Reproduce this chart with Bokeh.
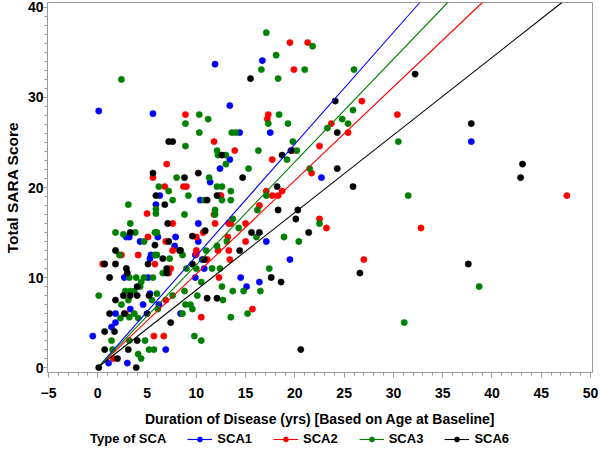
from bokeh.plotting import figure
from bokeh.layouts import column
from bokeh.models import Range1d, FixedTicker, Legend, LegendItem
from bokeh.embed import file_html
from bokeh.resources import INLINE

# ---------------- data ----------------
sca1_x = [0.1, 5.6, 6.3, 11.9, 16.7, 13.4, 14.4, 17.5, 13.4, 22.7, 12.4, 11.4, 12.4, 10.4, 10.2,
          17.1, 10.2, 10.6, 10.8, 19.5, 14.5, 16.4, 15.1, 9.9, 37.9, 5.9, 2.9, 3.2, 7.9, 6.1,
          4.3, 7.8, 5.4, 5.3, 9.9, 2.7, 5.1, 5.3, 3.3, 4.6, 6.2, 1.8, 1.8, 1.4, -0.5, 8.4,
          6.9, 1.1, 3.0]
sca1_y = [28.5, 28.2, 19.1, 33.7, 34.1, 29.1, 26.1, 26.1, 23.1, 21.1, 22.1, 20.6, 19.1, 18.6, 16.0,
          14.0, 14.0, 12.0, 11.0, 12.0, 10.0, 9.5, 9.0, 10.0, 25.1, 18.1, 14.5, 14.5, 14.5, 14.5,
          14.0, 13.5, 12.5, 12.1, 12.5, 10.0, 10.0, 8.2, 6.5, 7.0, 7.0, 6.0, 5.0, 4.5, 3.5, 6.0,
          2.0, 0.5, 0.5]

sca2_x = [8.9, 7.0, 5.6, 6.8, 8.7, 9.0, 19.5, 21.3, 19.9, 26.8, 17.3, 17.2, 23.7, 25.4, 11.8,
          13.9, 19.8, 17.7, 22.5, 21.7, 12.5, 17.1, 17.7, 18.3, 18.7, 11.8, 16.4, 22.5, 23.2, 27.0,
          11.9, 13.3, 13.5, 15.0, 10.7, 10.0, 13.2, 15.0, 13.3, 12.2, 10.0, 10.0, 11.1, 13.4, 12.3,
          15.7, 10.5, 30.4, 47.6, 32.8, 5.0, 7.6, 5.1, 6.9, 2.4, 4.1, 7.6, 0.5, 5.8, 7.4,
          7.2, 6.9, 2.8, 5.7, 6.7, 1.6]
sca2_y = [28.1, 22.6, 21.1, 20.1, 20.1, 20.1, 36.1, 36.1, 33.1, 29.6, 28.1, 27.6, 27.1, 26.1, 25.1,
          24.1, 24.1, 23.1, 24.6, 21.6, 19.1, 19.6, 19.1, 19.1, 19.6, 17.0, 18.0, 16.5, 15.5, 12.0,
          16.0, 16.0, 16.0, 16.0, 15.0, 14.5, 14.5, 14.0, 13.0, 13.0, 13.0, 12.6, 12.0, 12.0, 10.0,
          6.5, 5.6, 28.1, 19.1, 15.5, 17.1, 16.0, 14.5, 14.0, 12.5, 12.5, 13.0, 11.5, 11.5, 11.0,
          10.5, 7.5, 6.0, 3.5, 3.5, 1.0]

sca3_x = [2.4, 10.3, 8.9, 10.3, 8.9, 8.0, 6.2, 7.2, 7.6, 9.2, 17.1, 21.8, 18.1, 16.6, 21.0,
          18.3, 26.0, 25.9, 11.2, 18.4, 17.3, 19.3, 24.8, 25.4, 23.3, 13.6, 14.0, 12.1, 12.2, 13.0,
          16.3, 19.8, 20.2, 13.0, 19.2, 21.5, 15.3, 11.3, 12.1, 12.6, 13.5, 17.1, 13.5, 10.8, 12.6,
          8.8, 11.9, 11.9, 13.7, 16.2, 22.5, 14.3, 16.1, 18.9, 20.4, 12.1, 13.1, 11.0, 8.6, 10.0,
          11.6, 12.4, 9.0, 17.4, 10.5, 12.6, 13.7, 14.8, 16.5, 8.8, 10.1, 12.7, 8.9, 9.4, 9.6,
          8.6, 15.2, 13.5, 9.8, 10.5, 30.5, 31.5, 38.7, 31.1, 3.1, 5.9, 5.9, 3.3, 1.8, 2.6,
          3.8, 5.8, 6.0, 4.7, 2.2, 5.8, 6.0, 7.3, 6.6, 3.2, 3.9, 4.7, 5.6, 0.1, 4.4,
          4.3, 2.8, 3.3, 3.7, 3.1, 5.5, 6.0, 7.6, 6.1, 3.2, 3.7, 4.1, 2.3, 4.8, 3.2,
          1.5, 5.2, 5.7, 4.1, 4.4, 2.4, 1.4]
sca3_y = [32.0, 28.1, 27.1, 26.1, 24.6, 21.1, 20.1, 19.6, 18.6, 19.1, 37.2, 35.7, 34.7, 33.1, 33.1,
          32.1, 33.1, 28.6, 27.6, 28.1, 27.1, 27.1, 27.6, 27.1, 26.6, 26.1, 26.1, 24.1, 23.6, 23.6,
          24.1, 25.1, 24.1, 22.6, 23.1, 22.1, 22.1, 21.1, 20.1, 20.1, 19.6, 19.1, 18.6, 18.6, 18.6,
          17.0, 17.5, 17.0, 16.5, 17.5, 16.0, 15.5, 14.5, 14.5, 14.0, 13.5, 14.0, 13.0, 12.5, 11.0,
          11.0, 11.0, 11.0, 11.0, 9.5, 9.0, 8.5, 8.5, 8.5, 8.5, 8.0, 7.5, 7.0, 7.0, 6.5,
          6.0, 6.0, 5.6, 3.5, 3.0, 25.1, 19.1, 9.0, 5.0, 18.1, 17.6, 17.1, 16.0, 15.0, 14.8,
          15.0, 15.0, 15.0, 14.0, 12.5, 12.5, 12.5, 12.1, 10.5, 10.0, 10.0, 10.0, 10.0, 8.0, 9.5,
          9.0, 8.5, 8.5, 8.5, 7.5, 7.5, 8.2, 8.0, 6.5, 5.6, 6.0, 5.5, 5.5, 3.0, 3.0,
          2.0, 2.0, 2.0, 1.5, 1.0, 7.0, 3.0]

sca6_x = [7.2, 7.6, 5.6, 8.8, 10.2, 5.9, 15.5, 24.1, 24.3, 12.6, 19.6, 18.7, 24.3, 25.9, 14.7,
          12.1, 18.2, 11.1, 18.3, 20.3, 20.1, 21.4, 26.6, 10.9, 15.6, 16.4, 9.6, 14.4, 9.6, 8.4,
          10.8, 17.6, 18.6, 11.1, 12.1, 20.6, 32.2, 37.9, 43.1, 42.9, 37.6, 6.8, 7.1, 3.3, 7.2,
          5.8, 1.8, 8.3, 6.6, 0.7, 1.8, 5.1, 7.0, 7.0, 2.9, 3.0, 1.2, 4.0, 2.6, 3.3,
          4.0, 5.2, 1.2, 2.7, 5.0, 1.7, 0.7, 4.0, 7.4, 0.7, 3.1, 2.0, 0.1, 3.9, 1.8]
sca6_y = [25.1, 25.1, 21.6, 21.1, 21.6, 19.1, 32.1, 29.6, 26.1, 23.6, 24.1, 23.6, 22.1, 20.1, 21.1,
          19.1, 20.1, 18.6, 17.5, 17.5, 16.5, 15.0, 10.5, 15.2, 15.0, 15.0, 14.6, 13.0, 11.5, 13.0,
          12.0, 10.0, 9.5, 7.7, 7.7, 2.0, 32.6, 27.1, 22.6, 21.1, 11.5, 18.1, 16.0, 15.0, 14.0,
          13.6, 13.0, 13.0, 12.1, 11.5, 11.5, 11.5, 11.0, 10.5, 11.0, 10.5, 10.0, 9.0, 8.0, 8.0,
          8.0, 8.0, 6.0, 6.0, 6.0, 4.0, 4.0, 3.0, 5.0, 2.0, 2.0, 1.0, 0.0, 0.0, 7.5]

series_names = ["SCA1", "SCA2", "SCA3", "SCA6"]
series_colors = ["#0000FF", "#FF0000", "#008000", "#000000"]
# slopes of the regression lines through the origin
fit_slopes = [1.241, 1.039, 1.142, 0.861]

x_ticks = [-5, 0, 5, 10, 15, 20, 25, 30, 35, 40, 45, 50]
x_tick_labels = ["\u22125", "0", "5", "10", "15", "20", "25", "30", "35", "40", "45", "50"]
y_ticks = [0, 10, 20, 30, 40]
y_tick_labels = ["0", "10", "20", "30", "40"]

x_title = "Duration of Disease (yrs) [Based on Age at Baseline]"
y_title = "Total SARA Score"
legend_title = "Type of SCA"

# ---------------- main figure ----------------
FONT = "Liberation Sans"
Y_TOP = 40.55
AX_GREY = "#9a9a9a"
MAIN_H = 431
p = figure(width=600, height=MAIN_H, output_backend="svg", toolbar_location=None,
           x_range=Range1d(-5.1, 50.2), y_range=Range1d(-0.55, Y_TOP),
           min_border_top=2, min_border_right=8, min_border_left=47, min_border_bottom=59,
           background_fill_color="white", border_fill_color="white")
p.outline_line_color = AX_GREY
p.xgrid.visible = False
p.ygrid.visible = False

xs = [sca1_x, sca2_x, sca3_x, sca6_x]
ys = [sca1_y, sca2_y, sca3_y, sca6_y]
MS = 6.3
fit_x = []
fit_y = []
for c, s in zip(series_colors, fit_slopes):
    x_end = Y_TOP / s
    fit_x.append([0, x_end])
    fit_y.append([0, s * x_end])

for xv, yv, c in zip(xs, ys, series_colors):
    p.scatter(x=xv, y=yv, size=MS, marker="circle", fill_color=c, line_color=c, line_width=0.5)
for fx, fy, c in zip(fit_x, fit_y, series_colors):
    p.line(x=fx, y=fy, line_color=c, line_width=1.1)

for ax in (p.xaxis[0], p.yaxis[0]):
    ax.axis_line_color = AX_GREY
    ax.major_tick_line_color = AX_GREY
    ax.minor_tick_line_color = AX_GREY
    ax.major_tick_in = 0
    ax.minor_tick_in = 0
    ax.minor_tick_out = 3
    ax.major_label_text_font = FONT
    ax.major_label_text_font_style = "bold"
    ax.major_label_text_font_size = "14px"
    ax.major_label_text_color = "black"
    ax.axis_label_text_font = FONT
    ax.axis_label_text_font_style = "bold"
    ax.axis_label_text_color = "black"

p.xaxis[0].ticker = FixedTicker(ticks=x_ticks, minor_ticks=list(range(-5, 51)))
p.xaxis[0].major_label_overrides = dict(zip(x_ticks, x_tick_labels))
p.xaxis[0].axis_label = x_title
p.xaxis[0].axis_label_text_font_size = "14px"
p.xaxis[0].major_tick_out = 5
p.xaxis[0].major_label_standoff = 10
p.xaxis[0].axis_label_standoff = 10

p.yaxis[0].ticker = FixedTicker(ticks=y_ticks, minor_ticks=list(range(0, 41)))
p.yaxis[0].major_label_overrides = dict(zip(y_ticks, y_tick_labels))
p.yaxis[0].axis_label = y_title
p.yaxis[0].axis_label_text_font_size = "15.5px"
p.yaxis[0].major_tick_out = 4
p.yaxis[0].major_label_standoff = 0
p.yaxis[0].axis_label_standoff = 4

# ---------------- legend strip ----------------
# the strip shows the same series, but its ranges keep every mark out of view:
# only the legend entries are seen.
lg = figure(width=600, height=452 - MAIN_H, output_backend="svg", toolbar_location=None,
            x_range=Range1d(-900, -899), y_range=Range1d(-900, -899),
            x_axis_location=None, y_axis_location=None,
            min_border=0, min_border_left=0, min_border_right=0, min_border_top=0, min_border_bottom=0,
            background_fill_color="white", border_fill_color="white")
lg.outline_line_color = None
lg.xgrid.visible = False
lg.ygrid.visible = False

items = []
blank = lg.scatter(x=sca1_x, y=sca1_y, size=1, fill_alpha=0, line_alpha=0)
items.append(LegendItem(label=legend_title, renderers=[blank]))
for xv, yv, fx, fy, c, name in zip(xs, ys, fit_x, fit_y, series_colors, series_names):
    ln = lg.line(x=fx, y=fy, line_color=c, line_width=1.1)
    sc = lg.scatter(x=xv, y=yv, size=MS, marker="circle", fill_color=c, line_color=c)
    items.append(LegendItem(label=name, renderers=[ln, sc]))

legend = Legend(items=items, orientation="horizontal", location=(13, 6),
                label_text_font=FONT, label_text_font_style="bold", label_text_font_size="13px",
                label_text_color="black",
                glyph_width=25, glyph_height=12, label_standoff=5, spacing=21, label_height=14,
                padding=0, margin=0, border_line_color=None, background_fill_alpha=0)
lg.add_layout(legend, "center")

layout = column(p, lg, spacing=0)
open("out.html", "w").write(file_html(layout, INLINE))
